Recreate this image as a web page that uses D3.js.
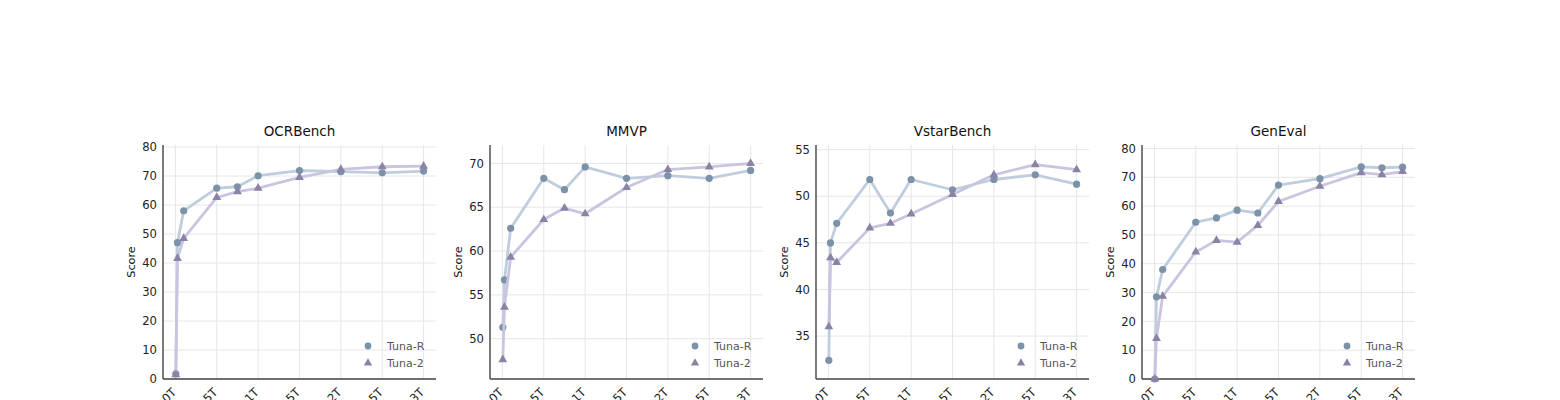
<!DOCTYPE html>
<html>
<head>
<meta charset="utf-8">
<script src="https://cdn.jsdelivr.net/npm/d3@7"></script>
<style>
  body { margin: 0; background: #fff; }
  svg { font-family: "DejaVu Sans", sans-serif; }
</style>
</head>
<body>
<div id="chart"></div>
<script>
// token counts (T) at each checkpoint
var xBase = [0.005, 0.025, 0.1, 0.5, 0.75, 1, 1.5, 2, 2.5, 3]
var xGenEval = [0.005, 0.025, 0.1, 0.5, 0.75, 1, 1.25, 1.5, 2, 2.5, 2.75, 3]
var xTicks = [0, 0.5, 1, 1.5, 2, 2.5, 3]
var xTickLabels = ["0T", "0.5T", "1T", "1.5T", "2T", "2.5T", "3T"]

var benchmarks = ["OCRBench", "MMVP", "VstarBench", "GenEval"]
var seriesNames = ["Tuna-R", "Tuna-2"]

var ocrTunaR = [1.8, 47.0, 58.0, 65.8, 66.3, 70.1, 71.9, 71.5, 71.1, 71.7]
var ocrTuna2 = [1.5, 41.6, 48.5, 62.6, 64.6, 65.8, 69.5, 72.3, 73.2, 73.4]
var mmvpTunaR = [51.3, 56.7, 62.6, 68.3, 67.0, 69.6, 68.3, 68.6, 68.3, 69.2]
var mmvpTuna2 = [47.6, 53.6, 59.3, 63.6, 64.9, 64.25, 67.25, 69.3, 69.6, 70.0]
var vstarTunaR = [32.4, 45.0, 47.1, 51.8, 48.2, 51.8, 50.7, 51.8, 52.3, 51.3]
var vstarTuna2 = [36.0, 43.4, 42.9, 46.6, 47.1, 48.1, 50.2, 52.3, 53.4, 52.85]
var genTunaR = [0, 28.5, 38.0, 54.4, 55.9, 58.6, 57.6, 67.3, 69.5, 73.6, 73.3, 73.5]
var genTuna2 = [0, 14.1, 28.7, 44.1, 48.1, 47.5, 53.3, 61.6, 66.9, 71.6, 70.9, 72.0]

var yDomains = [[0, 80.7], [45.4, 72.1], [30.4, 55.5], [0, 81.2]]
var yTickSets = [d3.range(0, 81, 10), d3.range(50, 71, 5), d3.range(35, 56, 5), d3.range(0, 81, 10)]

var panels = [
    { x: xBase, r: ocrTunaR, t2: ocrTuna2 },
    { x: xBase, r: mmvpTunaR, t2: mmvpTuna2 },
    { x: xBase, r: vstarTunaR, t2: vstarTuna2 },
    { x: xGenEval, r: genTunaR, t2: genTuna2 }
]

var colors = {
    rLine: "#bfcddd", rDot: "#7c92a8",
    tLine: "#c8c5e0", tDot: "#8b82a6"
}

var svg = d3.select("#chart").append("svg")
    .attr("width", 1560)
    .attr("height", 400)

var lefts = [163, 490, 816, 1142]
var plotW = 273, plotTop = 145, plotBottom = 379

panels.forEach(function (p, i) {
    var g = svg.append("g").attr("transform", "translate(" + lefts[i] + ",0)")
    var x = d3.scaleLinear().domain([-0.15, 3.15]).range([0, plotW])
    var y = d3.scaleLinear().domain(yDomains[i]).range([plotBottom, plotTop])

    // grid
    g.selectAll(".gx").data(xTicks).enter().append("line")
        .attr("x1", d => x(d)).attr("x2", d => x(d))
        .attr("y1", plotTop).attr("y2", plotBottom)
        .attr("stroke", "#e6e6e6").attr("stroke-width", 1)
    g.selectAll(".gy").data(yTickSets[i]).enter().append("line")
        .attr("x1", 0).attr("x2", plotW)
        .attr("y1", d => y(d)).attr("y2", d => y(d))
        .attr("stroke", "#e6e6e6").attr("stroke-width", 1)

    // y axis labels
    var yAxis = g.append("g").call(d3.axisLeft(y).tickValues(yTickSets[i]).tickSize(0).tickPadding(6))
    yAxis.select(".domain").remove()
    yAxis.selectAll("text").attr("font-size", 11.6).attr("fill", "#222").attr("font-family", "DejaVu Sans")

    // x axis labels, rotated
    var xAxis = g.append("g").attr("transform", "translate(0," + plotBottom + ")")
        .call(d3.axisBottom(x).tickValues(xTicks).tickFormat((d, k) => xTickLabels[k]).tickSize(0).tickPadding(0))
    xAxis.select(".domain").remove()
    xAxis.selectAll("text")
        .attr("font-size", 11.6).attr("fill", "#222").attr("font-family", "DejaVu Sans")
        .attr("text-anchor", "end")
        .attr("dy", 0)
        .attr("transform", "translate(1,14) rotate(-45)")

    // spines
    g.append("line").attr("x1", 0).attr("x2", 0).attr("y1", plotTop).attr("y2", plotBottom)
        .attr("stroke", "#444").attr("stroke-width", 1.4)
    g.append("line").attr("x1", 0).attr("x2", plotW).attr("y1", plotBottom).attr("y2", plotBottom)
        .attr("stroke", "#444").attr("stroke-width", 1.4)

    var line = d3.line().x(d => x(d[0])).y(d => y(d[1]))
    var rPts = p.x.map((v, k) => [v, p.r[k]])
    var tPts = p.x.map((v, k) => [v, p.t2[k]])

    g.append("path").datum(rPts).attr("d", line)
        .attr("fill", "none").attr("stroke", colors.rLine).attr("stroke-width", 2.8)
        .attr("stroke-linejoin", "round")
    g.selectAll(".rdot").data(rPts).enter().append("circle")
        .attr("cx", d => x(d[0])).attr("cy", d => y(d[1])).attr("r", 3.6)
        .attr("fill", colors.rDot)

    g.append("path").datum(tPts).attr("d", line)
        .attr("fill", "none").attr("stroke", colors.tLine).attr("stroke-width", 2.8)
        .attr("stroke-linejoin", "round")
    g.selectAll(".tdot").data(tPts).enter().append("path")
        .attr("d", d3.symbol().type(d3.symbolTriangle).size(34))
        .attr("transform", d => "translate(" + x(d[0]) + "," + y(d[1]) + ")")
        .attr("fill", colors.tDot)

    // title
    g.append("text").text(benchmarks[i])
        .attr("x", plotW / 2).attr("y", 136)
        .attr("text-anchor", "middle").attr("font-size", 13.5).attr("fill", "#111")

    // y label
    g.append("text").text("Score")
        .attr("transform", "translate(-28," + ((plotTop + plotBottom) / 2) + ") rotate(-90)")
        .attr("text-anchor", "middle").attr("font-size", 11.2).attr("fill", "#111")

    // legend
    var lg = g.append("g").attr("transform", "translate(205," + (plotBottom - 33) + ")")
    lg.append("circle").attr("cx", 0).attr("cy", 0).attr("r", 3.4).attr("fill", colors.rDot)
    lg.append("path").attr("d", d3.symbol().type(d3.symbolTriangle).size(30))
        .attr("transform", "translate(0,17)").attr("fill", colors.tDot)
    lg.selectAll(".lt").data(seriesNames).enter().append("text")
        .text(d => d)
        .attr("x", 19).attr("y", (d, k) => k * 17 + 4)
        .attr("font-size", 11).attr("fill", "#555")
})
</script>
</body>
</html>
